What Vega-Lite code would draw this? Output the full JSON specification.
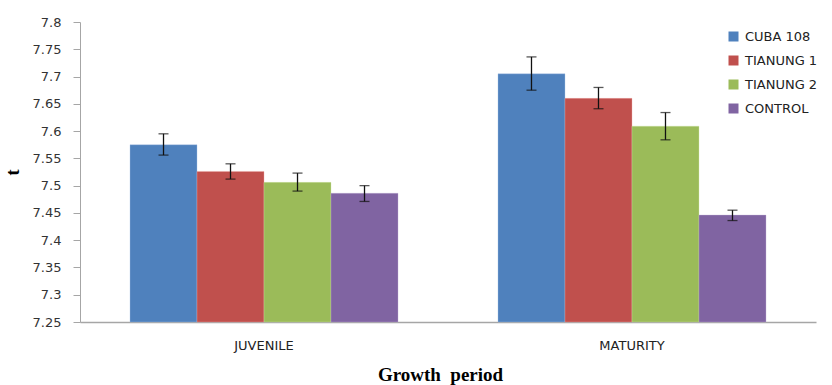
{
  "$schema": "https://vega.github.io/schema/vega-lite/v6.json",
  "autosize": "none",
  "width": 736,
  "height": 300,
  "padding": {"left": 80, "top": 22, "right": 16, "bottom": 63},
  "background": "white",
  "config": {"view": {"stroke": null}},
  "data": {"values": [
    {"period": "JUVENILE", "variety": "CUBA 108", "mean": 7.575, "lo": 7.556, "hi": 7.595},
    {"period": "JUVENILE", "variety": "TIANUNG 1", "mean": 7.526, "lo": 7.512, "hi": 7.540},
    {"period": "JUVENILE", "variety": "TIANUNG 2", "mean": 7.506, "lo": 7.490, "hi": 7.523},
    {"period": "JUVENILE", "variety": "CONTROL", "mean": 7.486, "lo": 7.471, "hi": 7.500},
    {"period": "MATURITY", "variety": "CUBA 108", "mean": 7.705, "lo": 7.675, "hi": 7.736},
    {"period": "MATURITY", "variety": "TIANUNG 1", "mean": 7.660, "lo": 7.641, "hi": 7.680},
    {"period": "MATURITY", "variety": "TIANUNG 2", "mean": 7.609, "lo": 7.584, "hi": 7.634},
    {"period": "MATURITY", "variety": "CONTROL", "mean": 7.446, "lo": 7.436, "hi": 7.455}
  ]},
  "encoding": {
    "x": {
      "field": "period", "type": "nominal",
      "scale": {"paddingInner": 0.2717, "paddingOuter": 0.1359},
      "axis": {
        "title": "Growth\u00a0\u00a0period", "titleFont": "Liberation Serif", "titleFontSize": 19, "titleFontWeight": "bold",
        "titleColor": "black", "titlePadding": 13, "titleX": 360,
        "labelAngle": 0, "labelFont": "DejaVu Sans", "labelFontSize": 13, "labelColor": "#222",
        "labelPadding": 17, "ticks": false, "domainColor": "#a6a6a6", "domainWidth": 1.5
      }
    },
    "xOffset": {"field": "variety", "type": "nominal", "sort": ["CUBA 108", "TIANUNG 1", "TIANUNG 2", "CONTROL"], "scale": {"paddingInner": 0, "paddingOuter": 0}}
  },
  "layer": [
    {
      "mark": {"type": "bar", "strokeWidth": 1, "strokeOpacity": 0.35},
      "encoding": {
        "y": {
          "field": "mean", "type": "quantitative",
          "scale": {"domain": [7.25, 7.8], "zero": false, "clamp": true, "nice": false},
          "axis": {
            "title": "t", "titleFont": "Liberation Serif", "titleFontSize": 18, "titleFontWeight": "bold",
            "titleColor": "black", "titleAngle": -90, "titlePadding": 10,
            "values": [7.25, 7.3, 7.35, 7.4, 7.45, 7.5, 7.55, 7.6, 7.65, 7.7, 7.75, 7.8],
            "tickCount": 20,
            "format": ".2~f", "labelFont": "DejaVu Sans", "labelFontSize": 13, "labelColor": "#333",
            "labelOverlap": false, "labelBound": false, "labelFlush": false,
            "labelPadding": 12, "tickSize": 7, "tickColor": "#a6a6a6", "domainColor": "#a6a6a6",
            "grid": false
          }
        },
        "y2": {"datum": 7.25},
        "color": {
          "field": "variety", "type": "nominal",
          "scale": {"domain": ["CUBA 108", "TIANUNG 1", "TIANUNG 2", "CONTROL"], "range": ["#4f81bd", "#c0504d", "#9bbb59", "#8064a2"]},
          "legend": {
            "title": null, "orient": "none", "legendX": 647, "legendY": 8,
            "symbolType": "square", "symbolSize": 100, "symbolStrokeWidth": 0,
            "labelFont": "DejaVu Sans", "labelFontSize": 13, "labelColor": "#222",
            "rowPadding": 10, "labelOffset": 5
          }
        },
        "stroke": {"field": "variety", "type": "nominal", "legend": null,
          "scale": {"domain": ["CUBA 108", "TIANUNG 1", "TIANUNG 2", "CONTROL"], "range": ["#a8c4e8", "#f0a8a6", "#d0e4a8", "#c0b0d8"]}}
      }
    },
    {
      "mark": {"type": "rule", "color": "#111", "strokeWidth": 1.3},
      "encoding": {
        "y": {"field": "lo", "type": "quantitative"},
        "y2": {"field": "hi"}
      }
    },
    {
      "mark": {"type": "tick", "color": "#111", "thickness": 1.3, "size": 10},
      "encoding": {"y": {"field": "lo", "type": "quantitative"}}
    },
    {
      "mark": {"type": "tick", "color": "#111", "thickness": 1.3, "size": 10},
      "encoding": {"y": {"field": "hi", "type": "quantitative"}}
    }
  ]
}
